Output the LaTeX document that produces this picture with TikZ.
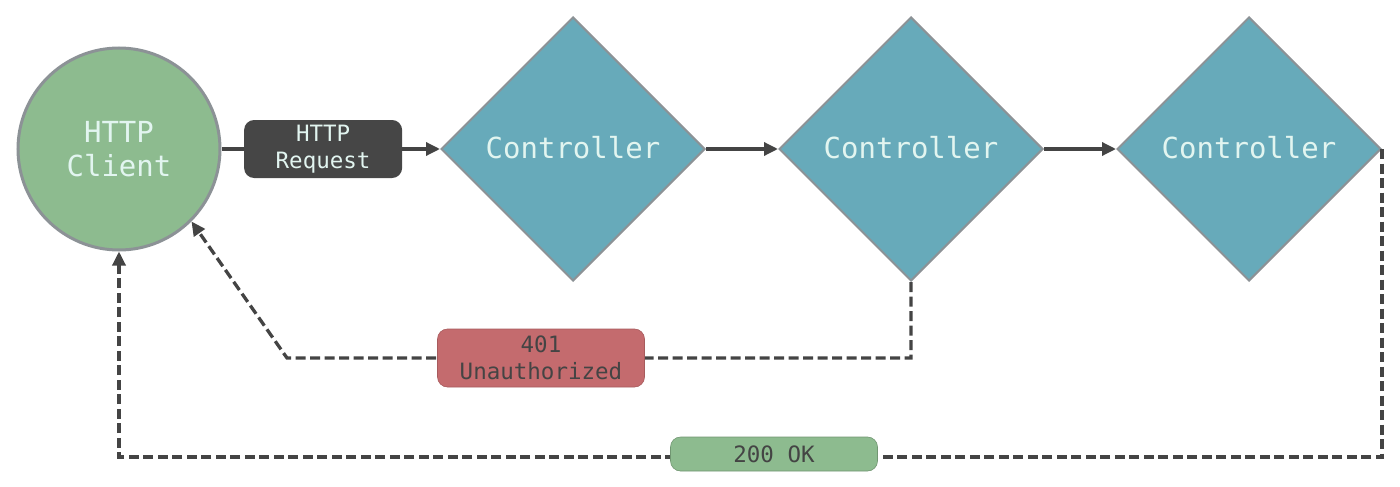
\documentclass[tikz,border=0pt]{standalone}
\usepackage{fontspec}
\newfontfamily\mono{DejaVu Sans Mono}
\usetikzlibrary{shapes.geometric,arrows.meta}
\definecolor{cgreen}{HTML}{8DBB8F}
\definecolor{cblue}{HTML}{67AABA}
\definecolor{cred}{HTML}{C46B6E}
\definecolor{cdark}{HTML}{464646}
\definecolor{cline}{HTML}{444444}
\definecolor{cborder}{HTML}{8C9296}
\definecolor{ctext}{HTML}{E2F5F0}
\tikzset{
  clientnode/.style={circle, draw=cborder, line width=3pt, fill=cgreen, minimum size=202pt, inner sep=0pt,
     font=\mono\fontsize{29}{34}\selectfont, text=ctext, align=center},
  ctrl/.style={diamond, draw=cborder, line width=2pt, fill=cblue, minimum width=264pt, minimum height=264pt,
     inner sep=0pt, aspect=1, font=\mono\fontsize{29}{34}\selectfont, text=ctext},
  reqbox/.style={rounded corners=10pt, fill=cdark, minimum width=158pt, minimum height=58pt, inner sep=0pt,
     font=\mono\fontsize{22.5}{27}\selectfont, text=ctext, align=center},
  errbox/.style={rounded corners=10pt, fill=cred, draw=cred!85!black, line width=0.6pt, minimum width=207pt, minimum height=58pt, inner sep=0pt,
     font=\mono\fontsize{22.5}{27}\selectfont, text=cline, align=center},
  okbox/.style={rounded corners=10pt, fill=cgreen, draw=cgreen!80!black, line width=0.6pt, minimum width=207pt, minimum height=34pt, inner sep=0pt,
     font=\mono\fontsize{22.5}{27}\selectfont, text=cline, align=center},
  arr/.style={draw=cline, line width=3.3pt, -{Triangle[length=14pt,width=13pt]}},
  dasharr/.style={draw=cline, line width=3.3pt, dash pattern=on 10pt off 4.5pt, -{Triangle[length=14pt,width=13pt]}},
}
\begin{document}
\begin{tikzpicture}[x=1pt,y=-1pt]
\useasboundingbox (0,0) rectangle (1400,487);
\node[clientnode] (client) at (119,149) {HTTP\\Client};
\node[ctrl] (c1) at (573,149) {\raisebox{4pt}{Controller}};
\node[ctrl] (c2) at (911,149) {\raisebox{4pt}{Controller}};
\node[ctrl] (c3) at (1249,149) {\raisebox{4pt}{Controller}};
\coordinate (k1) at (287,358);
\coordinate (k2) at (119,457);
\draw[arr] (client.east) -- node[pos=0.465, reqbox] (req) {HTTP\\Request} (c1.west);
\draw[arr] (c1.east) -- (c2.west);
\draw[arr] (c2.east) -- (c3.west);
\draw[dasharr] (c2.south) |- (k1) -- (client.-45);
\draw[dasharr] (c3.east) |- (k2) -- (client.south);
\node[errbox] (e401) at (541,358) {401\\Unauthorized};
\node[okbox] (ok) at (774,454) {200 OK};
\end{tikzpicture}
\end{document}
